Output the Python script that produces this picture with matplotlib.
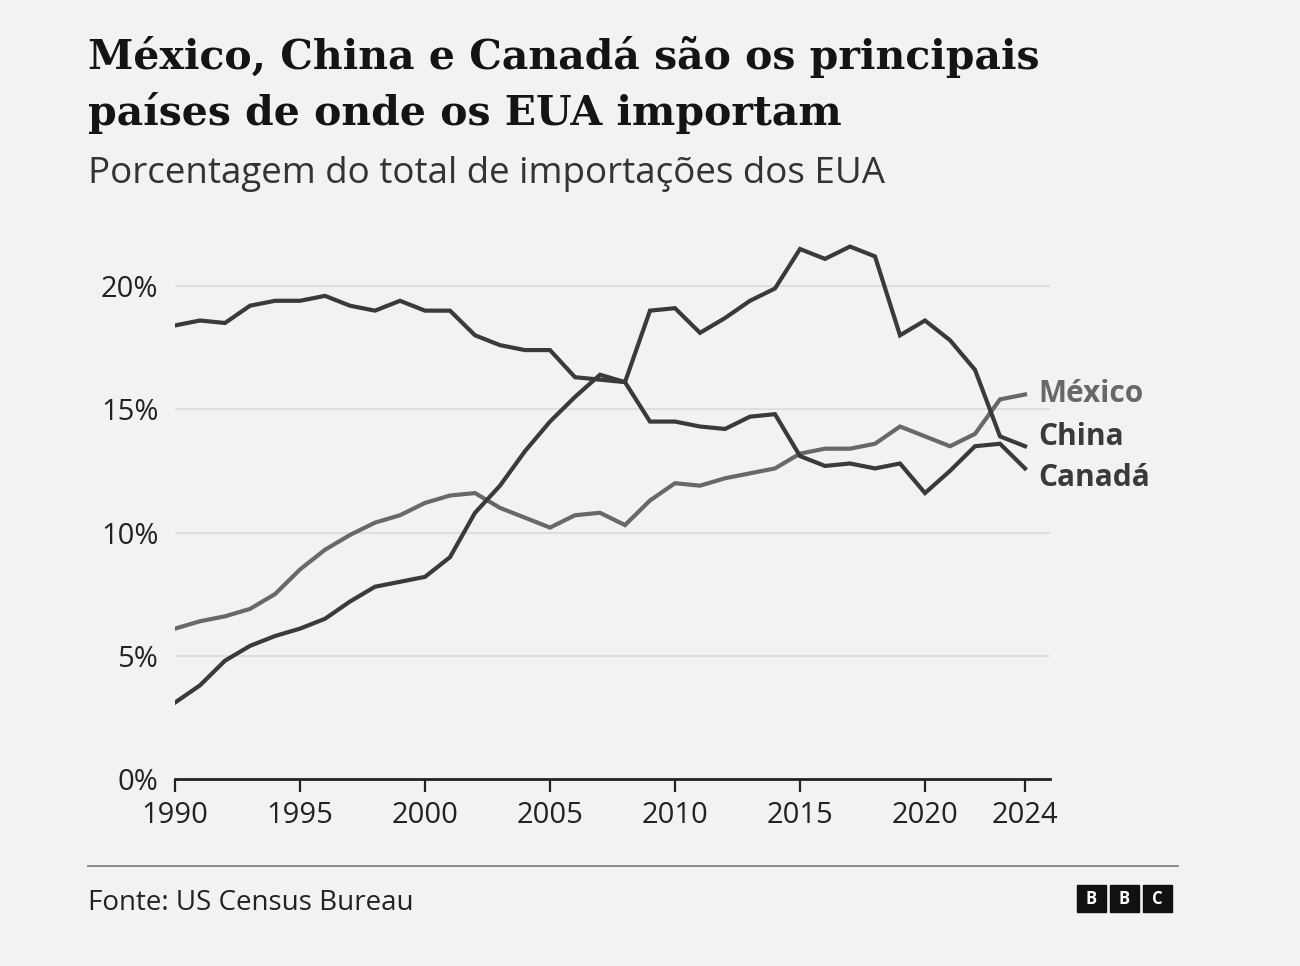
import matplotlib
matplotlib.use('Agg')
import matplotlib.pyplot as plt
from matplotlib.patches import Rectangle
from matplotlib.lines import Line2D

# data (% of total US imports)
years = list(range(1990, 2025))
canada = [18.4, 18.6, 18.5, 19.2, 19.4, 19.4, 19.6, 19.2, 19.0, 19.4,
          19.0, 19.0, 18.0, 17.6, 17.4, 17.4, 16.3, 16.2, 16.1, 14.5,
          14.5, 14.3, 14.2, 14.7, 14.8, 13.1, 12.7, 12.8, 12.6, 12.8,
          11.6, 12.5, 13.5, 13.6, 12.6]
china = [3.1, 3.8, 4.8, 5.4, 5.8, 6.1, 6.5, 7.2, 7.8, 8.0,
         8.2, 9.0, 10.8, 11.9, 13.3, 14.5, 15.5, 16.4, 16.1, 19.0,
         19.1, 18.1, 18.7, 19.4, 19.9, 21.5, 21.1, 21.6, 21.2, 18.0,
         18.6, 17.8, 16.6, 13.9, 13.5]
mexico = [6.1, 6.4, 6.6, 6.9, 7.5, 8.5, 9.3, 9.9, 10.4, 10.7,
          11.2, 11.5, 11.6, 11.0, 10.6, 10.2, 10.7, 10.8, 10.3, 11.3,
          12.0, 11.9, 12.2, 12.4, 12.6, 13.2, 13.4, 13.4, 13.6, 14.3,
          13.9, 13.5, 14.0, 15.4, 15.6]
y_ticks = [0, 5, 10, 15, 20]
x_ticks = [1990, 1995, 2000, 2005, 2010, 2015, 2020, 2024]

bg = '#f2f2f2'
dark = '#3a3a3a'
mid = '#686868'

plt.rcParams['font.family'] = ['Open Sans', 'DejaVu Sans']

fig = plt.figure(figsize=(13, 9.66), dpi=100, facecolor=bg)
W, H = 1300, 966

# axes placed in pixel terms of the reference
left, right, bottom_px, top_px = 175, 1050, 779, 236.7
ax = fig.add_axes([left / W, 1 - bottom_px / H, (right - left) / W, (bottom_px - top_px) / H])
ax.set_facecolor(bg)

ax.plot(years, mexico, color=mid, lw=3, solid_joinstyle='miter', zorder=3)
ax.plot(years, canada, color=dark, lw=3, solid_joinstyle='miter', zorder=4)
ax.plot(years, china, color=dark, lw=3, solid_joinstyle='miter', zorder=4)

ax.set_xlim(1990, 2025)
ax.set_ylim(0, 22)
ax.set_yticks(y_ticks)
ax.set_yticklabels([f'{v}%' for v in y_ticks])
ax.set_xticks(x_ticks)
ax.set_xticklabels([str(v) for v in x_ticks])
for v in y_ticks[1:]:
    ax.axhline(v, color='#dcdcdc', lw=1.3, zorder=1)

for s in ['top', 'right', 'left']:
    ax.spines[s].set_visible(False)
ax.spines['bottom'].set_color('#222222')
ax.spines['bottom'].set_linewidth(2)
ax.tick_params(axis='y', length=0, labelsize=21, colors='#222222', pad=12)
ax.tick_params(axis='x', length=9, width=1.6, color='#222222', labelsize=21, labelcolor='#222222', pad=7)

# series labels at line ends
lab_kw = dict(fontsize=21.5, fontweight='bold', va='center', ha='left')
fig.text(1038 / W, 1 - 394 / H, 'México', color=mid, **lab_kw)
fig.text(1038 / W, 1 - 437 / H, 'China', color=dark, **lab_kw)
fig.text(1038 / W, 1 - 478 / H, 'Canadá', color=dark, **lab_kw)

# title block
fig.text(88 / W, 1 - 57 / H, 'México, China e Canadá são os principais', fontsize=29.5,
         fontweight='bold', family=['DejaVu Serif'], color='#141414', va='center')
fig.text(88 / W, 1 - 113 / H, 'países de onde os EUA importam', fontsize=29.5,
         fontweight='bold', family=['DejaVu Serif'], color='#141414', va='center')
fig.text(88 / W, 1 - 174 / H, 'Porcentagem do total de importações dos EUA', fontsize=26.5,
         color='#333333', va='center')

# footer
fig.add_artist(Line2D([88 / W, 1178 / W], [1 - 866 / H, 1 - 866 / H], color='#777777', lw=1.2))
fig.text(88 / W, 1 - 903 / H, 'Fonte: US Census Bureau', fontsize=20, color='#222222', va='center')
for i, ch in enumerate('BBC'):
    x0 = (1077 + i * 33) / W
    fig.add_artist(Rectangle((x0, 1 - 912 / H), 29 / W, 27 / H, color='#111111',
                             transform=fig.transFigure))
    fig.text(x0 + 14.5 / W, 1 - 898.5 / H, ch, fontsize=12, fontweight='bold',
             color='white', ha='center', va='center')

fig.savefig('out.png', dpi=100, facecolor=bg)
